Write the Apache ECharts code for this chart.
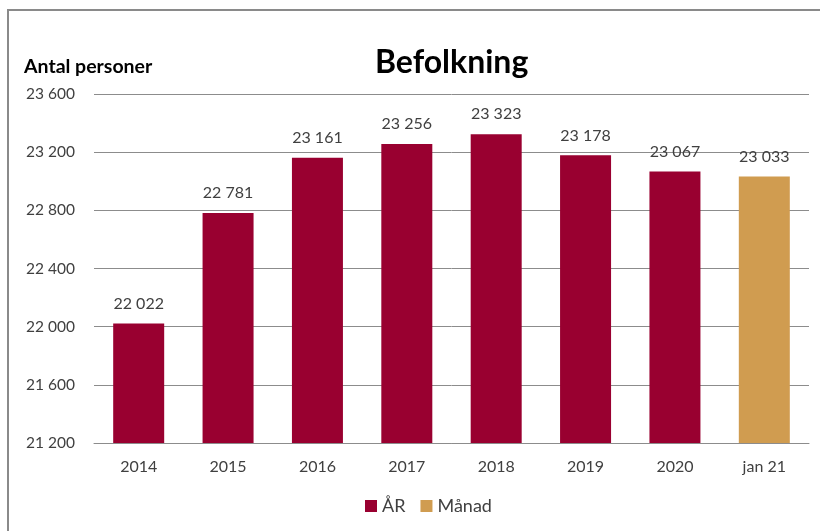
<!DOCTYPE html>
<html>
<head>
<meta charset="utf-8">
<script src="https://cdn.jsdelivr.net/npm/echarts@6/dist/echarts.min.js"></script>
<style>
  html, body { margin: 0; padding: 0; background: #fff; }
  #chart { width: 820px; height: 531px; }
</style>
</head>
<body>
<div id="chart"></div>
<script>
// kategorier och värden
const categories = ['2014', '2015', '2016', '2017', '2018', '2019', '2020', 'jan 21'];
const arValues = [22022, 22781, 23161, 23256, 23323, 23178, 23067, '-'];
const manadValues = ['-', '-', '-', '-', '-', '-', '-', 23033];

const fontFamily = 'Lato, "Open Sans", sans-serif';

// mellanslag som tusentalsavgränsare
function fmt(v) {
  return String(v).replace(/\B(?=(\d{3})+(?!\d))/g, ' ');
}

const chart = echarts.init(document.getElementById('chart'), null, { renderer: 'canvas' });

const valueLabel = {
  show: true,
  position: 'top',
  distance: 12,
  fontSize: 16,
  color: '#404040',
  fontFamily: fontFamily,
  formatter: p => fmt(p.value)
};

const option = {
  animation: false,
  textStyle: { fontFamily: fontFamily },
  graphic: [
    {
      type: 'rect',
      shape: { x: 8, y: 10, width: 900, height: 700 },
      style: { fill: 'none', stroke: '#8a8a8a', lineWidth: 2 },
      silent: true
    },
    {
      type: 'text',
      left: 24,
      top: 57,
      style: {
        text: 'Antal personer',
        font: 'bold 19.5px ' + fontFamily,
        fill: '#000'
      }
    }
  ],
  title: {
    text: 'Befolkning',
    left: 370,
    top: 42,
    textStyle: { fontSize: 32, fontWeight: 'bold', color: '#000', fontFamily: fontFamily }
  },
  legend: {
    bottom: 11,
    left: 360,
    itemWidth: 12,
    itemHeight: 12,
    itemGap: 15,
    icon: 'rect',
    textStyle: { fontSize: 18, color: '#404040', fontFamily: fontFamily },
    data: ['ÅR', 'Månad']
  },
  grid: {
    left: 94,
    right: 11,
    top: 94,
    bottom: 88
  },
  xAxis: {
    type: 'category',
    data: categories,
    axisLine: { lineStyle: { color: '#8c8c8c', width: 1 } },
    axisTick: { show: false },
    axisLabel: { fontSize: 16, color: '#404040', margin: 16, fontFamily: fontFamily }
  },
  yAxis: {
    type: 'value',
    min: 21200,
    max: 23600,
    interval: 400,
    axisLine: { show: false },
    axisTick: { show: false },
    axisLabel: {
      fontSize: 15.5,
      color: '#404040',
      margin: 19,
      fontFamily: fontFamily,
      formatter: v => fmt(v)
    },
    splitLine: { lineStyle: { color: '#8c8c8c', width: 1 } }
  },
  series: [
    {
      name: 'ÅR',
      type: 'bar',
      data: arValues,
      barWidth: 51,
      barGap: '-100%',
      itemStyle: { color: '#990030' },
      label: valueLabel
    },
    {
      name: 'Månad',
      type: 'bar',
      data: manadValues,
      barWidth: 51,
      barGap: '-100%',
      itemStyle: { color: '#d09c50' },
      label: valueLabel
    }
  ]
};

chart.setOption(option);
</script>
</body>
</html>
